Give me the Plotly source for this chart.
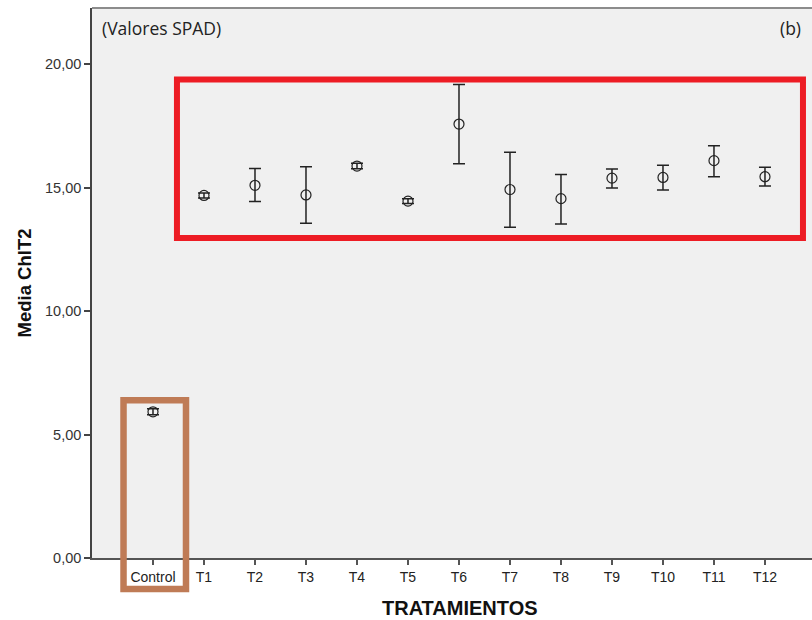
import plotly.graph_objects as go

categories = ["Control", "T1", "T2", "T3", "T4", "T5", "T6", "T7", "T8", "T9", "T10", "T11", "T12"]
means = [5.92, 14.68, 15.09, 14.70, 15.87, 14.45, 17.57, 14.92, 14.55, 15.38, 15.41, 16.09, 15.44]
err_plus = [0.12, 0.10, 0.68, 1.14, 0.11, 0.10, 1.60, 1.51, 0.98, 0.37, 0.49, 0.60, 0.38]
err_minus = [0.12, 0.10, 0.66, 1.15, 0.11, 0.10, 1.61, 1.53, 1.03, 0.40, 0.51, 0.65, 0.38]
y_ticks = [0, 5, 10, 15, 20]

fig = go.Figure()
fig.add_trace(go.Scatter(
    x=categories, y=means, mode="markers",
    marker=dict(symbol="circle-open", size=10, color="#222", line=dict(width=1.2, color="#222")),
    error_y=dict(type="data", symmetric=False, array=err_plus, arrayminus=err_minus,
                 color="#222", thickness=1.5, width=6),
    showlegend=False, hoverinfo="skip",
))

# highlight rectangles
fig.add_shape(type="rect", xref="x", yref="y", x0=0.47, x1=12.745, y0=12.96, y1=19.37,
              line=dict(color="#ed1c24", width=6), fillcolor="rgba(0,0,0,0)", layer="above")
fig.add_shape(type="rect", xref="x", yref="paper", x0=-0.578, x1=0.647, y0=-0.0564, y1=0.287,
              line=dict(color="#bf7b56", width=6.5), fillcolor="rgba(0,0,0,0)", layer="above")
# top frame line
fig.add_shape(type="line", xref="paper", yref="paper", x0=0, x1=1, y0=1, y1=1,
              line=dict(color="#8c8c8c", width=2))

fig.add_annotation(text="(Valores SPAD)", xref="paper", yref="paper", x=0.011, y=0.963,
                   xanchor="left", yanchor="middle", showarrow=False,
                   font=dict(family="Open Sans", size=17.5, color="#222"))
fig.add_annotation(text="(b)", xref="paper", yref="paper", x=0.988, y=0.963,
                   xanchor="right", yanchor="middle", showarrow=False,
                   font=dict(family="Open Sans", size=17.5, color="#222"))
fig.add_annotation(text="<b>TRATAMIENTOS</b>", xref="paper", yref="paper", x=0.511, y=-0.091,
                   xanchor="center", yanchor="middle", showarrow=False,
                   font=dict(family="Liberation Sans, Arial", size=20, color="#111"))

fig.update_layout(
    width=812, height=620,
    margin=dict(l=92, r=0, t=8, b=62),
    paper_bgcolor="white", plot_bgcolor="#f0f0f0",
    separators=",.",
    font=dict(family="Liberation Sans, Arial", size=14, color="#333"),
    xaxis=dict(
        type="category", categoryorder="array", categoryarray=categories,
        range=[-1.196, 12.922], showgrid=False, zeroline=False,
        showline=True, linecolor="#555", linewidth=2,
        ticks="outside", ticklen=5, tickwidth=1.5, tickcolor="#555",
        tickfont=dict(size=14, color="#222"),
    ),
    yaxis=dict(
        range=[0, 22.27], tickvals=y_ticks, tickformat=".2f",
        showgrid=False, zeroline=False,
        showline=True, linecolor="#444", linewidth=1.5,
        ticks="outside", ticklen=6, tickwidth=1.5, tickcolor="#444",
        tickfont=dict(size=14.5, color="#333"),
        title=dict(text="<b>Media ChlT2</b>", font=dict(size=18.5, color="#111"), standoff=9),
    ),
)

fig.write_html("out.html")
